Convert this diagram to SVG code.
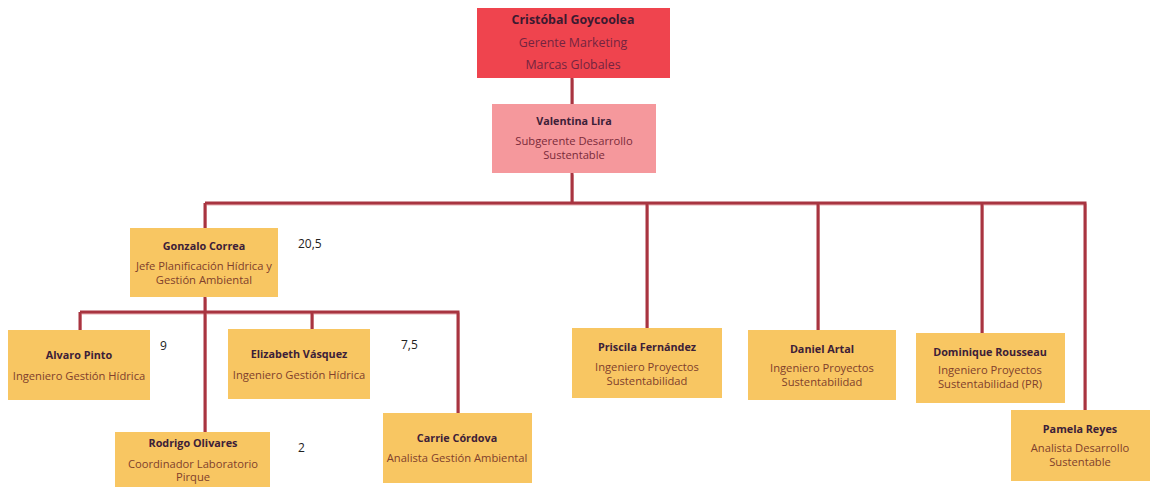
<svg xmlns="http://www.w3.org/2000/svg" width="1152" height="487" viewBox="0 0 1152 487">
<style>
.bg{fill:#ffffff}
.box{fill:#f8c662}
.top{fill:#ef444e}
.sub{fill:#f5989c}
text{font-family:"Open Sans","Noto Sans","Liberation Sans",sans-serif;font-size:11.2px;text-anchor:middle}
.n{font-weight:bold;fill:#3c2038;font-size:10.8px}
.r{fill:#80402c}
.rs{fill:#7a2a3a}
.rt{fill:#742440;font-size:12.4px}
.nt{font-weight:bold;fill:#3c1a30;font-size:12.4px}
.num{fill:#222;font-size:12px;text-anchor:start}
.c{fill:none;stroke:#a83440;stroke-width:3;stroke-linejoin:miter}
.cs{fill:none;stroke:#e8b0b4;stroke-width:2}
</style>
<rect class="bg" width="1152" height="487"/>
<g id="connectors">
<g transform="translate(1,1.5)" class="cs">
<path d="M572 78V104M572 173V203M205 203H1085V410M205 203V228M647 203V328M818 203V330M982 203V333M205 297V432M80 312H458V413M80 312V330M312 312V329"/>
</g>
<path class="c" d="M572 78V104M572 173V203M205 203H1085V410M205 203V228M647 203V328M818 203V330M982 203V333M205 297V432M80 312H458V413M80 312V330M312 312V329"/>
</g>
<g id="cristobal"><rect class="top" x="477" y="8" width="193" height="70"/>
<text class="nt" x="573" y="24">Cristóbal Goycoolea</text>
<text class="rt" x="573" y="47">Gerente Marketing</text>
<text class="rt" x="573" y="69">Marcas Globales</text></g>
<g id="valentina"><rect class="sub" x="492" y="104" width="164" height="69"/>
<text class="n" x="574" y="125">Valentina Lira</text>
<text class="rs" x="574" y="145">Subgerente Desarrollo</text>
<text class="rs" x="574" y="159">Sustentable</text></g>
<g id="gonzalo"><rect class="box" x="130" y="228" width="148" height="69"/>
<text class="n" x="204" y="250">Gonzalo Correa</text>
<text class="r" x="204" y="270">Jefe Planificación Hídrica y</text>
<text class="r" x="204" y="284">Gestión Ambiental</text>
<text class="num" x="298" y="248">20,5</text></g>
<g id="alvaro"><rect class="box" x="8" y="330" width="142" height="70"/>
<text class="n" x="79" y="359">Alvaro Pinto</text>
<text class="r" x="79" y="380">Ingeniero Gestión Hídrica</text>
<text class="num" x="160" y="350">9</text></g>
<g id="elizabeth"><rect class="box" x="228" y="329" width="142" height="70"/>
<text class="n" x="299" y="358">Elizabeth Vásquez</text>
<text class="r" x="299" y="379">Ingeniero Gestión Hídrica</text>
<text class="num" x="401" y="349">7,5</text></g>
<g id="rodrigo"><rect class="box" x="115" y="432" width="155" height="58"/>
<text class="n" x="193" y="447">Rodrigo Olivares</text>
<text class="r" x="193" y="468">Coordinador Laboratorio</text>
<text class="r" x="193" y="481">Pirque</text>
<text class="num" x="298" y="452">2</text></g>
<g id="carrie"><rect class="box" x="383" y="413" width="149" height="70"/>
<text class="n" x="457" y="442">Carrie Córdova</text>
<text class="r" x="457" y="462">Analista Gestión Ambiental</text></g>
<g id="priscila"><rect class="box" x="572" y="328" width="150" height="70"/>
<text class="n" x="647" y="351">Priscila Fernández</text>
<text class="r" x="647" y="371">Ingeniero Proyectos</text>
<text class="r" x="647" y="385">Sustentabilidad</text></g>
<g id="daniel"><rect class="box" x="748" y="330" width="148" height="70"/>
<text class="n" x="822" y="353">Daniel Artal</text>
<text class="r" x="822" y="372">Ingeniero Proyectos</text>
<text class="r" x="822" y="386">Sustentabilidad</text></g>
<g id="dominique"><rect class="box" x="916" y="333" width="149" height="70"/>
<text class="n" x="990" y="356">Dominique Rousseau</text>
<text class="r" x="990" y="374">Ingeniero Proyectos</text>
<text class="r" x="990" y="388">Sustentabilidad (PR)</text></g>
<g id="pamela"><rect class="box" x="1011" y="410" width="139" height="71"/>
<text class="n" x="1080" y="433">Pamela Reyes</text>
<text class="r" x="1080" y="452">Analista Desarrollo</text>
<text class="r" x="1080" y="466">Sustentable</text></g>
</svg>
